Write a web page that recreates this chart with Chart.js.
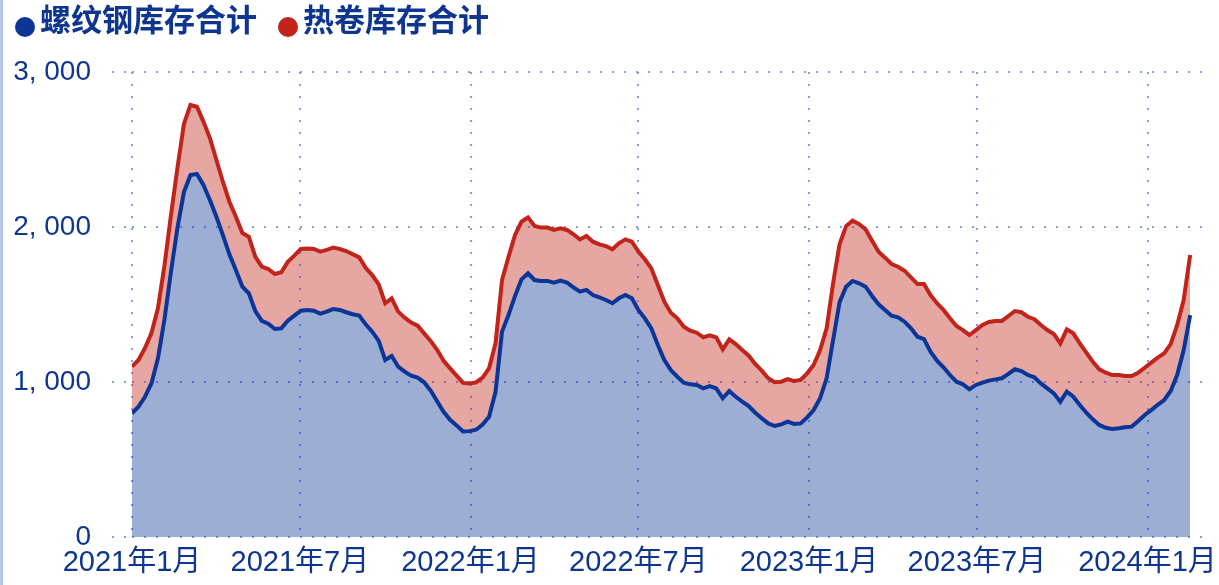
<!DOCTYPE html>
<html>
<head>
<meta charset="utf-8">
<script src="https://cdn.jsdelivr.net/npm/chart.js@4.4.1/dist/chart.umd.min.js"></script>
<style>
html,body{margin:0;padding:0;background:#fff;}
#wrap{position:relative;width:1219px;height:585px;overflow:hidden;}
#edge{position:absolute;left:0;top:0;width:3px;height:585px;background:#b7c6ee;}
#legend{position:absolute;left:15px;top:-2px;font-family:'Noto Sans CJK SC',sans-serif;font-weight:bold;font-size:31px;color:#0e3690;white-space:nowrap;line-height:40px;}
#legend .dot{display:inline-block;width:20px;height:20px;border-radius:50%;vertical-align:-6px;margin-right:5px;}
#legend .item2{margin-left:21px;}
</style>
</head>
<body>
<div id="wrap">
<canvas id="c" width="1219" height="585"></canvas>
<div id="legend"><span class="item"><span class="dot" style="background:#0b3596"></span>螺纹钢库存合计</span><span class="item item2"><span class="dot" style="background:#c0241a"></span>热卷库存合计</span></div>
<div id="edge"></div>
</div>
<script>
// weekly series, first week = 2021-01-01, one point every 7 days
const seriesNames = ['螺纹钢库存合计', '热卷库存合计'];
const rebar = [798,841,905,992,1153,1403,1710,1995,2225,2335,
2342,2271,2174,2066,1948,1824,1723,1615,1572,1458,
1394,1376,1342,1346,1395,1428,1460,1465,1460,1441,
1454,1471,1465,1450,1437,1428,1372,1325,1265,1142,
1168,1099,1067,1041,1028,998,945,876,808,756,
720,681,683,692,725,776,937,1325,1432,1555,
1662,1701,1658,1652,1652,1641,1654,1641,1611,1583,
1594,1561,1546,1529,1508,1540,1561,1540,1465,1411,
1346,1239,1142,1077,1034,996,985,981,959,974,
959,895,942,905,873,845,802,766,733,716,
727,744,729,733,772,819,895,1024,1271,1515,
1615,1652,1637,1615,1555,1501,1465,1428,1417,1389,
1346,1292,1277,1196,1138,1095,1045,1002,985,953,
981,996,1009,1017,1024,1052,1082,1071,1045,1030,
991,959,927,873,938,905,852,802,759,723,
705,697,701,708,712,748,787,819,852,884,
942,1045,1206,1432];
const hotCoil = [301,301,314,324,324,349,365,385,440,452,
434,409,400,366,344,339,343,346,365,350,
350,353,355,362,380,387,398,397,398,400,
398,396,393,395,387,376,365,365,365,366,
372,355,348,342,335,316,320,332,329,332,
321,313,307,305,303,312,313,333,376,393,
372,361,348,344,344,340,337,340,342,337,
348,344,342,348,348,355,359,365,376,381,
387,387,376,370,377,361,346,337,329,327,
329,316,333,340,333,325,314,307,291,282,
275,275,277,280,284,291,311,322,366,375,
391,389,382,370,357,340,337,333,327,329,
329,340,355,365,370,370,366,359,350,350,
354,372,378,377,370,374,376,379,376,375,
377,376,383,376,402,409,397,387,372,359,
355,348,344,331,327,312,305,306,305,301,
303,323,323,387];
const daysPerPoint = 7;
// x tick labels and their day offsets from 2021-01-01
const tickLabels = ['2021年1月','2021年7月','2022年1月','2022年7月','2023年1月','2023年7月','2024年1月'];
const tickDays = [0,181,365,546,730,911,1095];
const yTicks = [0,1000,2000,3000];

const textColor = '#0e3690';
const gridColor = '#7f9ef2';
const yFont = {family:"'Liberation Sans','Noto Sans CJK SC',sans-serif", size:28};
const xFont = {family:"'Liberation Sans','Noto Sans CJK SC',sans-serif", size:29};

const toPts = arr => arr.map((v,i)=>({x:i*daysPerPoint, y:v}));

new Chart(document.getElementById('c'), {
  type: 'line',
  data: {
    datasets: [
      {label: seriesNames[0], data: toPts(rebar), borderColor:'#0b3596', backgroundColor:'rgba(11,53,150,0.4)', fill:'origin', borderWidth:4, pointRadius:0, tension:0},
      {label: seriesNames[1], data: toPts(hotCoil), borderColor:'#c0241a', backgroundColor:'rgba(192,36,26,0.4)', fill:'-1', borderWidth:4, pointRadius:0, tension:0}
    ]
  },
  options: {
    responsive:false, animation:false,
    layout:{padding:{top:72, right:14, left:0, bottom:0}},
    plugins:{legend:{display:false}, tooltip:{enabled:false}},
    scales:{
      x:{
        type:'linear', min:0, max:1157,
        afterBuildTicks: s => { s.ticks = tickDays.map(v=>({value:v})); },
        afterFit: s => { s.height = 48; s.paddingRight = 0; s.paddingLeft = 0; },
        ticks:{autoSkip:false, maxRotation:0, color:textColor, font:xFont, padding:9,
          callback: v => tickLabels[tickDays.indexOf(v)]},
        grid:{color:gridColor, lineWidth:2, drawTicks:false},
        border:{display:false, dash:[2,10]}
      },
      y:{
        stacked:true, min:0, max:3000,
        afterBuildTicks: s => { s.ticks = yTicks.map(v=>({value:v})); },
        afterFit: s => { s.width = 132; },
        ticks:{color:textColor, font:yFont, padding:21,
          callback: v => v.toLocaleString('en-US').replace(',', ', ')},
        grid:{color:gridColor, lineWidth:2, drawTicks:true, tickLength:20, tickColor:gridColor, tickWidth:2, tickBorderDash:[2,10]},
        border:{display:false, dash:[2,10]}
      }
    }
  }
});
</script>
</body>
</html>
